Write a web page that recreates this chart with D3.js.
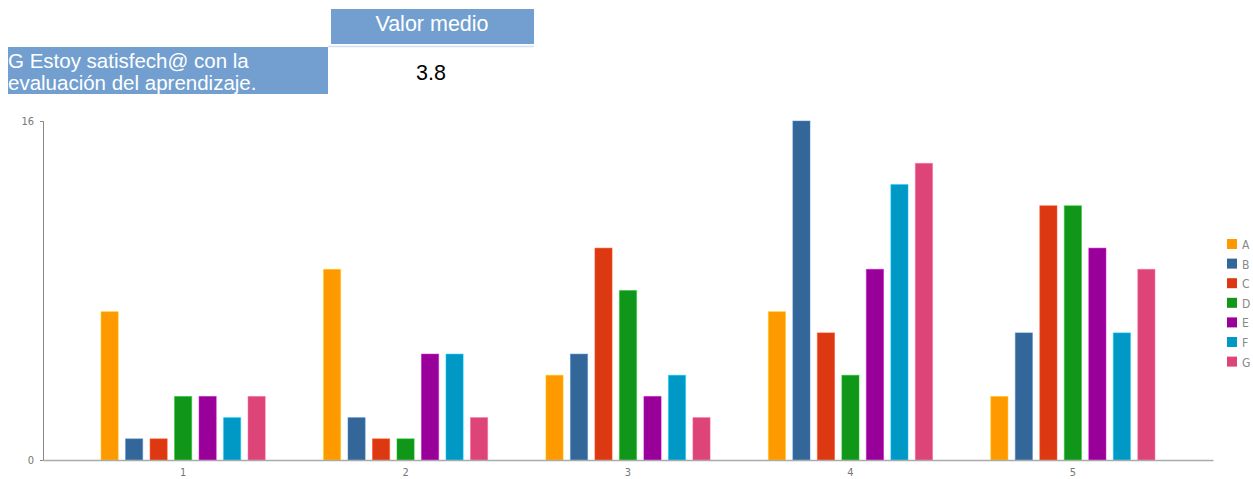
<!DOCTYPE html>
<html>
<head>
<meta charset="utf-8">
<script src="https://cdn.jsdelivr.net/npm/d3@7"></script>
<style>
  body { margin: 0; background: #fff; }
  svg { display: block; }
</style>
</head>
<body>
<div id="chart"></div>
<script>
const groups = ["1", "2", "3", "4", "5"];
const seriesKeys = ["A", "B", "C", "D", "E", "F", "G"];
const seriesColors = ["#ff9900", "#336699", "#dc3912", "#109618", "#990099", "#0099c6", "#dd4477"];
const valuesA = [7, 9, 4, 7, 3];
const valuesB = [1, 2, 5, 16, 6];
const valuesC = [1, 1, 10, 6, 12];
const valuesD = [3, 1, 8, 4, 12];
const valuesE = [3, 5, 3, 9, 10];
const valuesF = [2, 5, 4, 13, 6];
const valuesG = [3, 2, 2, 14, 9];
const yTicks = [0, 16];
const headerLabel = "Valor medio";
const questionLines = ["G Estoy satisfech@ con la", "evaluación del aprendizaje."];
const meanValue = "3.8";

const allSeries = [valuesA, valuesB, valuesC, valuesD, valuesE, valuesF, valuesG];
const data = groups.map((g, i) => {
    const row = { group: g };
    seriesKeys.forEach((k, j) => { row[k] = allSeries[j][i]; });
    return row;
});

const W = 1253, H = 479;
const svg = d3.select("#chart").append("svg")
    .attr("width", W)
    .attr("height", H);

// header table
const tableFont = "'Liberation Sans', Arial, sans-serif";
svg.append("rect").attr("x", 331).attr("y", 9).attr("width", 203).attr("height", 35).attr("fill", "#729fcf");
svg.append("text").attr("x", 432).attr("y", 31).attr("text-anchor", "middle")
    .attr("fill", "#fff").style("font", `21.5px ${tableFont}`).text(headerLabel);
svg.append("line").attr("x1", 328).attr("x2", 534).attr("y1", 46.5).attr("y2", 46.5)
    .attr("stroke", "#d3e0f0").attr("stroke-width", 1.5);
svg.append("clipPath").attr("id", "qclip").append("rect")
    .attr("x", 8).attr("y", 47).attr("width", 320).attr("height", 47);
svg.append("rect").attr("x", 8).attr("y", 47).attr("width", 320).attr("height", 47).attr("fill", "#729fcf");
svg.append("g").attr("clip-path", "url(#qclip)")
    .selectAll("text").data(questionLines).enter().append("text")
    .attr("x", 8).attr("y", (d, i) => 68 + i * 22)
    .attr("fill", "#fff").style("font", `20.5px ${tableFont}`)
    .text(d => d);
svg.append("text").attr("x", 431).attr("y", 80).attr("text-anchor", "middle")
    .attr("fill", "#000").style("font", `21.5px ${tableFont}`).text(meanValue);

// chart
const x0 = d3.scaleBand()
    .domain(groups)
    .range([43, 1213])
    .paddingInner(0)
    .paddingOuter(0.13);

const x1 = d3.scaleBand()
    .domain(seriesKeys)
    .range([-85.75, 85.75])
    .paddingInner(0.3)
    .paddingOuter(0.15);

const y = d3.scaleLinear()
    .domain([0, 16])
    .range([460, 121]);

const color = d3.scaleOrdinal()
    .domain(seriesKeys)
    .range(seriesColors);

svg.append("g")
    .selectAll("g")
    .data(data)
    .enter().append("g")
    .attr("transform", d => `translate(${x0(d.group) + x0.bandwidth() / 2},0)`)
    .selectAll("rect")
    .data(d => seriesKeys.map(k => ({ key: k, value: d[k] })))
    .enter().append("rect")
    .attr("x", d => x1(d.key))
    .attr("y", d => y(d.value))
    .attr("width", x1.bandwidth())
    .attr("height", d => y(0) - y(d.value))
    .attr("fill", d => color(d.key))
    .attr("stroke", d => d3.color(color(d.key)).brighter(0.8))
    .attr("stroke-opacity", 0.5)
    .attr("stroke-width", 1);

const axisFont = "11px 'DejaVu Sans Condensed', 'DejaVu Sans', sans-serif";

const yAxis = svg.append("g")
    .attr("transform", "translate(43,0)")
    .call(d3.axisLeft(y).tickValues(yTicks).tickSize(3).tickPadding(6));
yAxis.select(".domain").attr("stroke", "#888");
yAxis.selectAll(".tick line").attr("stroke", "#888");
yAxis.selectAll("text").attr("fill", "#777").style("font", axisFont);

const xAxis = svg.append("g")
    .attr("transform", "translate(0,460)")
    .call(d3.axisBottom(x0).tickSize(0).tickPadding(8).tickSizeOuter(0));
xAxis.select(".domain").attr("stroke", "#aaa").attr("stroke-width", 1.5);
xAxis.selectAll("text").attr("fill", "#777").style("font", axisFont);

// legend
const legend = svg.append("g")
    .selectAll("g")
    .data(seriesKeys)
    .enter().append("g")
    .attr("transform", (d, i) => `translate(1227,${239 + i * 19.6})`);
legend.append("rect")
    .attr("width", 10).attr("height", 10)
    .attr("fill", d => color(d));
legend.append("text")
    .attr("x", 15).attr("y", 10)
    .attr("fill", "#888")
    .style("font", "12px 'DejaVu Sans Condensed', 'DejaVu Sans', sans-serif")
    .text(d => d);
</script>
</body>
</html>
